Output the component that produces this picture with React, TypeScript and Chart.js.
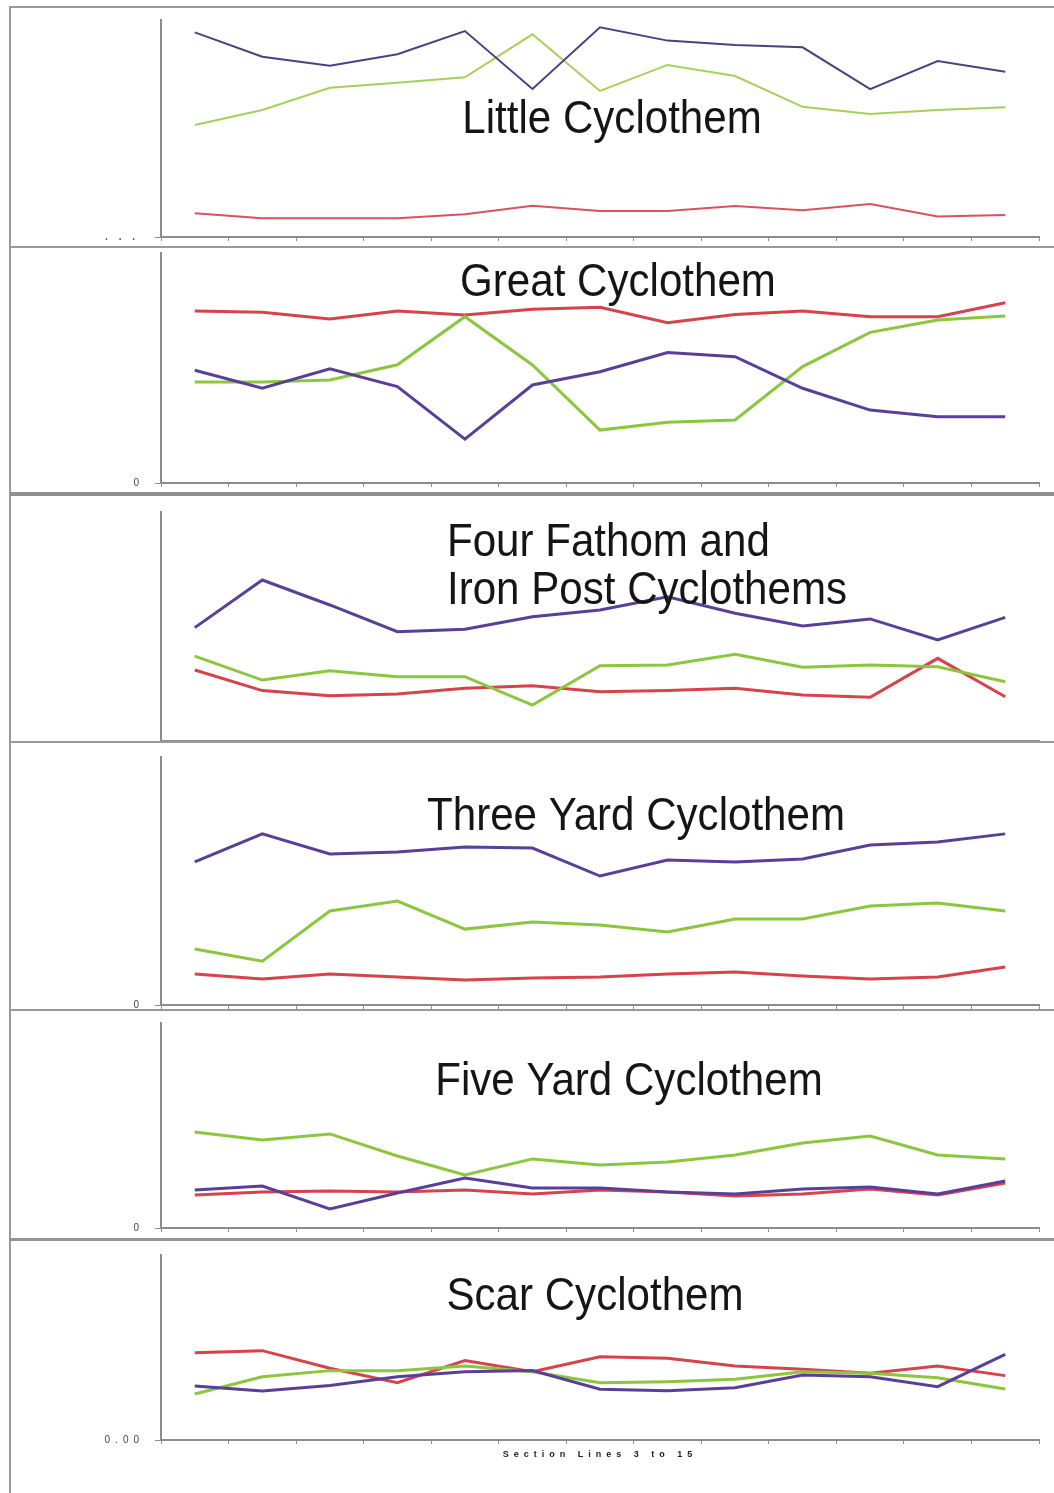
import React, { useEffect, useRef } from 'react';
import { Chart, registerables } from 'chart.js';

Chart.register(...registerables);

// ---------- data ----------
const sectionLines = ['3', '4', '5', '6', '7', '8', '9', '10', '11', '12', '13', '14', '15'];

const littlePurple = [94.3, 83.1, 78.9, 84.2, 94.9, 68.2, 96.6, 90.5, 88.5, 87.4, 68.1, 81.1, 76.2];
const littleGreen = [51.6, 58.5, 68.8, 71.1, 73.6, 93.4, 67.3, 79.3, 74.2, 60.0, 56.7, 58.5, 59.8];
const littleRed = [10.9, 8.6, 8.6, 8.6, 10.5, 14.4, 12.0, 12.0, 14.3, 12.3, 15.2, 9.4, 10.1];

const greatPurple = [49.0, 41.2, 49.6, 41.9, 19.1, 42.6, 48.4, 56.7, 54.9, 41.2, 31.7, 28.8, 28.8];
const greatGreen = [43.9, 43.9, 44.8, 51.4, 72.3, 51.3, 23.0, 26.4, 27.4, 50.6, 65.5, 70.9, 72.6];
const greatRed = [74.8, 74.2, 71.3, 74.8, 73.0, 75.5, 76.4, 69.7, 73.3, 74.8, 72.3, 72.3, 78.4];

const fourPurple = [49.5, 70.3, 59.4, 47.7, 48.8, 54.3, 57.2, 63.0, 55.8, 50.2, 53.3, 44.1, 54.0];
const fourGreen = [37.1, 26.6, 30.7, 28.1, 28.1, 15.7, 32.9, 33.2, 37.9, 32.2, 33.2, 32.4, 25.9];
const fourRed = [31.0, 22.0, 19.8, 20.5, 23.0, 24.1, 21.5, 22.0, 23.0, 20.1, 19.1, 36.1, 19.3];

const threePurple = [57.7, 69.0, 60.9, 61.7, 63.7, 63.3, 52.0, 58.5, 57.7, 58.9, 64.5, 65.7, 69.0];
const threeGreen = [22.6, 17.7, 37.9, 41.9, 30.6, 33.5, 32.3, 29.4, 34.7, 34.7, 39.9, 41.1, 37.9];
const threeRed = [12.5, 10.5, 12.5, 11.3, 10.1, 10.9, 11.3, 12.5, 13.3, 11.7, 10.5, 11.3, 15.3];

const fivePurple = [18.5, 20.5, 9.3, 17.1, 24.4, 19.5, 19.5, 17.6, 16.6, 19.0, 20.0, 16.6, 22.9];
const fiveGreen = [46.8, 42.9, 45.9, 35.1, 25.9, 33.7, 30.7, 32.2, 35.6, 41.5, 44.9, 35.6, 33.7];
const fiveRed = [16.1, 17.6, 18.0, 17.6, 18.5, 16.6, 18.5, 17.6, 15.6, 16.6, 19.0, 16.1, 22.0];

const scarPurple = [29.2, 26.5, 29.4, 34.2, 36.9, 37.5, 27.4, 26.6, 28.3, 35.1, 34.2, 28.8, 46.3];
const scarGreen = [24.9, 34.2, 37.5, 37.5, 40.0, 36.9, 31.0, 31.5, 32.8, 36.9, 36.1, 33.7, 27.6];
const scarRed = [47.2, 48.3, 38.8, 31.0, 42.9, 36.9, 45.0, 44.2, 40.0, 38.2, 36.1, 40.0, 34.8];

const panelTitles = [
  ['Little Cyclothem'],
  ['Great Cyclothem'],
  ['Four Fathom and', 'Iron Post Cyclothems'],
  ['Three Yard Cyclothem'],
  ['Five Yard Cyclothem'],
  ['Scar Cyclothem'],
];
const yZeroLabels = ['. . .', '0', '', '0', '0', '0.00'];
const xAxisTitle = 'Section Lines 3 to 15';

// ---------- layout / style ----------
const PURPLE = '#5a3f98';
const GREEN = '#8cc63f';
const RED = '#d6434b';
const AXIS = '#8c8c8c';
const TOP_PAD = 26;
const MIN_EXTRA = 26;

const panels = [
  { purple: littlePurple, green: littleGreen, red: littleRed, axisTop: 20, axisBottom: 237, extra: MIN_EXTRA, width: 2,
    colors: ['#4e4080', '#a6d05a', '#d9535c'], title: { x: 612, y: 133, align: 'center' }, spacing: '4px', tickPad: 16, labelWeight: 'bold', xTicks: true },
  { purple: greatPurple, green: greatGreen, red: greatRed, axisTop: 253, axisBottom: 483, extra: MIN_EXTRA, width: 3,
    colors: [PURPLE, GREEN, RED], title: { x: 618, y: 296, align: 'center' }, spacing: '0px', tickPad: 16, labelWeight: 'normal', xTicks: true },
  { purple: fourPurple, green: fourGreen, red: fourRed, axisTop: 512, axisBottom: 741, extra: MIN_EXTRA, width: 3,
    colors: [PURPLE, GREEN, RED], title: { x: 447, y: 556, align: 'left' }, spacing: '0px', tickPad: 16, labelWeight: 'normal', xTicks: false },
  { purple: threePurple, green: threeGreen, red: threeRed, axisTop: 757, axisBottom: 1005, extra: MIN_EXTRA, width: 3,
    colors: [PURPLE, GREEN, RED], title: { x: 636, y: 830, align: 'center' }, spacing: '0px', tickPad: 16, labelWeight: 'normal', xTicks: true },
  { purple: fivePurple, green: fiveGreen, red: fiveRed, axisTop: 1023, axisBottom: 1228, extra: MIN_EXTRA, width: 3,
    colors: [PURPLE, GREEN, RED], title: { x: 629, y: 1095, align: 'center' }, spacing: '0px', tickPad: 16, labelWeight: 'normal', xTicks: true },
  { purple: scarPurple, green: scarGreen, red: scarRed, axisTop: 1255, axisBottom: 1440, extra: 53, width: 3,
    colors: [PURPLE, GREEN, RED], title: { x: 595, y: 1310, align: 'center' }, spacing: '5px', tickPad: 11, labelWeight: 'normal', xTicks: true },
];

const separators = [
  { top: 246, h: 2, c: '#9a9a9a' },
  { top: 492, h: 4, c: '#8e8e8e' },
  { top: 741, h: 2, c: '#9a9a9a' },
  { top: 1009, h: 2, c: '#9a9a9a' },
  { top: 1238, h: 3, c: '#959595' },
];

const spacingPlugin = {
  id: 'spacing',
  beforeDraw(chart: any, _args: any, opts: any) {
    (chart.ctx as any).letterSpacing = opts.value || '0px';
  },
};

const panelTitlePlugin = {
  id: 'panelTitle',
  afterDraw(chart: any, _args: any, opts: any) {
    const ctx = chart.ctx;
    ctx.save();
    (ctx as any).letterSpacing = '0px';
    ctx.fillStyle = '#151515';
    ctx.font = '46px "Liberation Sans", Arial, sans-serif';
    ctx.textAlign = opts.align;
    ctx.textBaseline = 'alphabetic';
    (opts.lines as string[]).forEach((line, i) => {
      ctx.save();
      ctx.translate(opts.x, opts.y + i * 48);
      ctx.scale(0.915, 1);
      ctx.fillText(line, 0, 0);
      ctx.restore();
    });
    ctx.restore();
  },
};

function Panel({ idx }: { idx: number }) {
  const ref = useRef<HTMLCanvasElement>(null);
  const p = panels[idx];
  const canvasTop = p.axisTop - TOP_PAD;
  const canvasH = p.axisBottom + p.extra - canvasTop;
  useEffect(() => {
    if (!ref.current) return;
    const isLast = idx === panels.length - 1;
    const chart = new Chart(ref.current, {
      type: 'line',
      data: {
        labels: sectionLines,
        datasets: [
          { label: 'purple', data: p.purple, borderColor: p.colors[0] },
          { label: 'green', data: p.green, borderColor: p.colors[1] },
          { label: 'red', data: p.red, borderColor: p.colors[2] },
        ].map((d) => ({ ...d, borderWidth: p.width, pointRadius: 0, tension: 0, fill: false })),
      },
      plugins: [spacingPlugin, panelTitlePlugin],
      options: {
        animation: false,
        responsive: false,
        maintainAspectRatio: false,
        layout: { padding: { top: TOP_PAD, right: 15, left: 0, bottom: 0 } },
        plugins: {
          legend: { display: false },
          tooltip: { enabled: false },
          spacing: { value: p.spacing },
          panelTitle: {
            lines: panelTitles[idx],
            x: p.title.x,
            y: p.title.y - canvasTop,
            align: p.title.align,
          },
        } as any,
        scales: {
          x: {
            type: 'category',
            offset: true,
            grid: { offset: true, drawOnChartArea: false, drawTicks: p.xTicks, tickLength: 4, color: AXIS, lineWidth: 1 },
            border: { color: AXIS, width: 2 },
            ticks: { display: false },
            title: {
              display: isLast,
              text: xAxisTitle,
              color: '#222',
              font: { family: 'Arial, "Liberation Sans", sans-serif', size: 9, weight: 'bold' },
              padding: { top: 0, bottom: 33 },
            },
            afterFit: (s: any) => { s.height = p.extra; },
          },
          y: {
            min: 0,
            max: 100,
            grid: { drawOnChartArea: false, drawTicks: true, tickLength: 6, color: AXIS, lineWidth: 1 },
            border: { color: AXIS, width: 2 },
            ticks: {
              color: '#444',
              padding: p.tickPad,
              font: { family: 'Arial, "Liberation Sans", sans-serif', size: 10, weight: p.labelWeight },
              callback: () => yZeroLabels[idx],
            },
            afterBuildTicks: (s: any) => { s.ticks = [{ value: 0 }]; },
            afterFit: (s: any) => { s.width = 161; },
          },
        },
      } as any,
    });
    return () => chart.destroy();
  }, []);
  return (
    <canvas
      ref={ref}
      width={1054}
      height={canvasH}
      style={{ position: 'absolute', left: 0, top: canvasTop, width: 1054, height: canvasH }}
    />
  );
}

export default function App() {
  return (
    <div style={{ position: 'absolute', left: 0, top: 0, width: 1054, height: 1493, background: '#fff', overflow: 'hidden' }}>
      {panels.map((_, i) => <Panel key={i} idx={i} />)}
      <div style={{ position: 'absolute', left: 9, top: 6, width: 1045, height: 2, background: '#9a9a9a' }} />
      <div style={{ position: 'absolute', left: 9, top: 6, width: 2, height: 1487, background: '#9a9a9a' }} />
      {separators.map((s, i) => (
        <div key={i} style={{ position: 'absolute', left: 10, top: s.top, width: 1044, height: s.h, background: s.c }} />
      ))}
    </div>
  );
}
